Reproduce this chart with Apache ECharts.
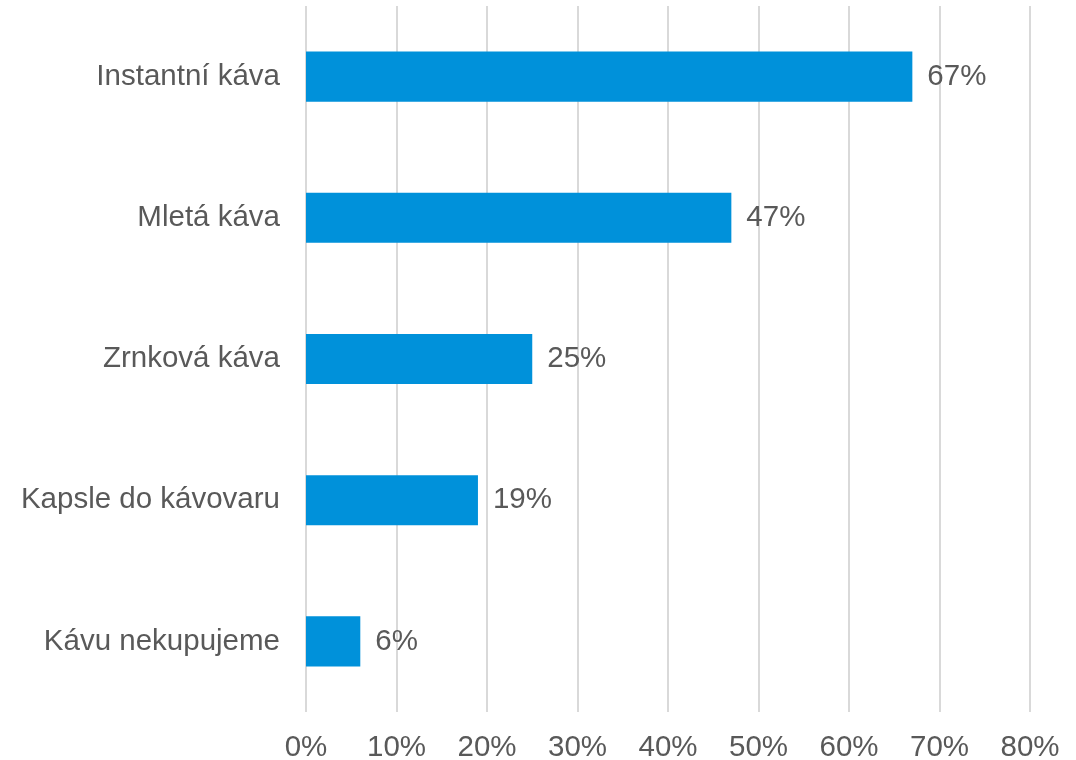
<!DOCTYPE html>
<html>
<head>
<meta charset="utf-8">
<script src="https://cdn.jsdelivr.net/npm/echarts@6/dist/echarts.min.js"></script>
<style>
  html, body { margin: 0; padding: 0; background: #ffffff; }
  #chart { width: 1076px; height: 760px; }
</style>
</head>
<body>
<div id="chart"></div>
<script>
// Types of coffee bought by households (share of respondents, %)
const categories = ['Instantní káva', 'Mletá káva', 'Zrnková káva', 'Kapsle do kávovaru', 'Kávu nekupujeme'];
const shares = [67, 47, 25, 19, 6];
const axisMax = 80;
const axisStep = 10;

const textColor = '#595959';
const fontFamily = '"Liberation Sans", Arial, sans-serif';
const fontSize = 29.5;

const chart = echarts.init(document.getElementById('chart'), null, { renderer: 'canvas' });
chart.setOption({
  backgroundColor: '#ffffff',
  animation: false,
  grid: { left: 306, right: 46, top: 6, bottom: 48, containLabel: false, outerBoundsMode: 'none' },
  xAxis: {
    type: 'value',
    min: 0,
    max: axisMax,
    interval: axisStep,
    axisLine: { show: false },
    axisTick: { show: false },
    splitLine: { show: true, lineStyle: { color: '#d9d9d9', width: 2 } },
    axisLabel: {
      formatter: '{value}%',
      color: textColor,
      fontSize: fontSize,
      fontFamily: fontFamily,
      margin: 21
    }
  },
  yAxis: {
    type: 'category',
    data: categories,
    inverse: true,
    axisLine: { show: false },
    axisTick: { show: false },
    splitLine: { show: false },
    axisLabel: {
      color: textColor,
      fontSize: fontSize,
      fontFamily: fontFamily,
      margin: 26,
      padding: [6, 0, 0, 0]
    }
  },
  series: [{
    type: 'bar',
    data: shares,
    barWidth: '35.5%',
    itemStyle: { color: '#0091da' },
    label: {
      show: true,
      position: 'right',
      distance: 15,
      formatter: '{c}%',
      color: textColor,
      fontSize: fontSize,
      fontFamily: fontFamily,
      padding: [6, 0, 0, 0]
    }
  }]
});
</script>
</body>
</html>
